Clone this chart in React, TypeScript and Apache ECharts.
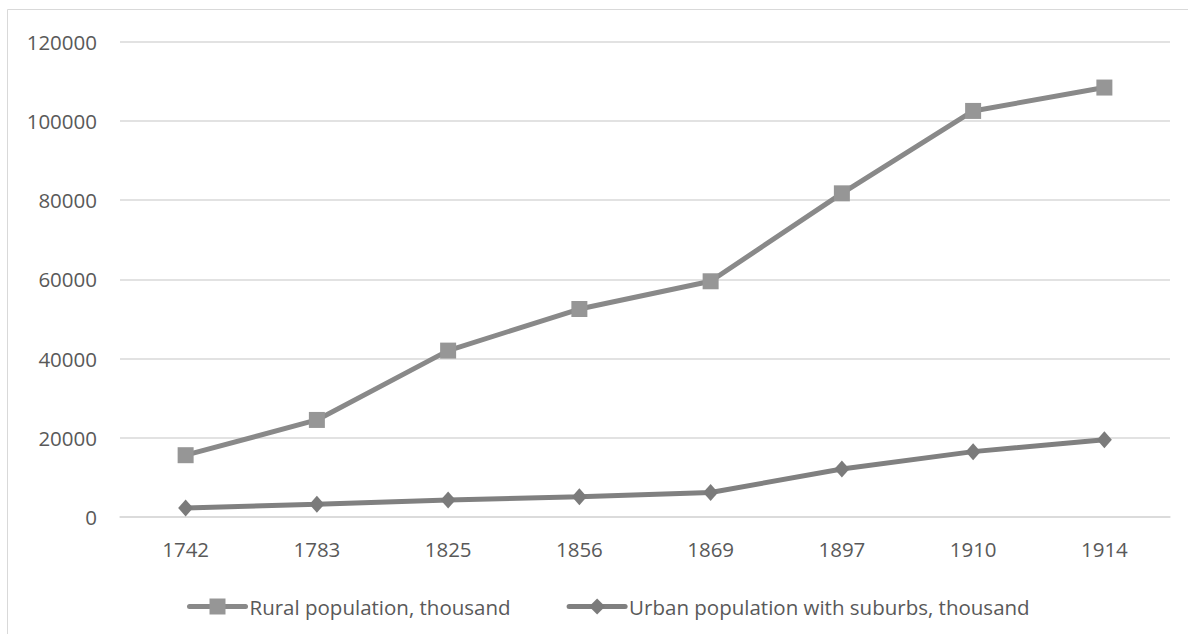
import React, { useEffect, useRef } from "react";
import * as echarts from "echarts";

const years = ["1742", "1783", "1825", "1856", "1869", "1897", "1910", "1914"];
const ruralPopulation = [15600, 24500, 42000, 52500, 59500, 81700, 102500, 108400];
const urbanPopulation = [2300, 3200, 4300, 5100, 6200, 12100, 16500, 19500];
const seriesNames = ["Rural population, thousand", "Urban population with suburbs, thousand"];

const FONT = "'Open Sans', 'Noto Sans', sans-serif";
const TEXT = "#595959";
const GRID = "#d9d9d9";

export default function App() {
  const ref = useRef<HTMLDivElement>(null);
  useEffect(() => {
    if (!ref.current) return;
    const chart = echarts.init(ref.current, undefined, { renderer: "svg" });
    chart.setOption({
      animation: false,
      backgroundColor: "#ffffff",
      textStyle: { fontFamily: FONT },
      graphic: [
        {
          type: "rect",
          shape: { x: 7.5, y: 9.5, width: 1300, height: 800 },
          style: { fill: "none", stroke: GRID, lineWidth: 1 },
          silent: true,
          z: -1,
        },
      ],
      grid: { left: 120, right: 18, top: 41.6, bottom: 117, containLabel: false },
      legend: {
        left: 182,
        top: 591,
        itemWidth: 56,
        itemHeight: 20,
        itemGap: 56,
        lineStyle: { width: 5 },
        textStyle: { color: TEXT, fontSize: 20.5, fontFamily: FONT, padding: [0, 0, 0, -1] },
        data: seriesNames,
      },
      xAxis: {
        type: "category",
        data: years,
        boundaryGap: true,
        axisLine: { show: true, lineStyle: { color: GRID, width: 1.5 } },
        axisTick: { show: false },
        axisLabel: { color: TEXT, fontSize: 20.5, fontFamily: FONT, margin: 21 },
        splitLine: { show: false },
      },
      yAxis: {
        type: "value",
        min: 0,
        max: 120000,
        interval: 20000,
        axisLine: { show: false },
        axisTick: { show: false },
        axisLabel: {
          color: TEXT,
          fontSize: 20.5,
          fontFamily: FONT,
          margin: 23,
          formatter: (v: number) => String(v),
        },
        splitLine: { show: true, lineStyle: { color: GRID, width: 1.5 } },
      },
      series: [
        {
          name: seriesNames[0],
          type: "line",
          data: ruralPopulation,
          symbol: "rect",
          symbolSize: 16,
          lineStyle: { color: "#898989", width: 5, cap: "round" },
          itemStyle: { color: "#969696" },
          emphasis: { disabled: true },
        },
        {
          name: seriesNames[1],
          type: "line",
          data: urbanPopulation,
          symbol: "diamond",
          symbolSize: [15, 17],
          lineStyle: { color: "#808080", width: 5, cap: "round" },
          itemStyle: { color: "#7b7b7b" },
          emphasis: { disabled: true },
        },
      ],
    });
    return () => chart.dispose();
  }, []);
  return (
    <div
      ref={ref}
      style={{ position: "absolute", left: 0, top: 0, width: 1188, height: 634, background: "#fff" }}
    />
  );
}
